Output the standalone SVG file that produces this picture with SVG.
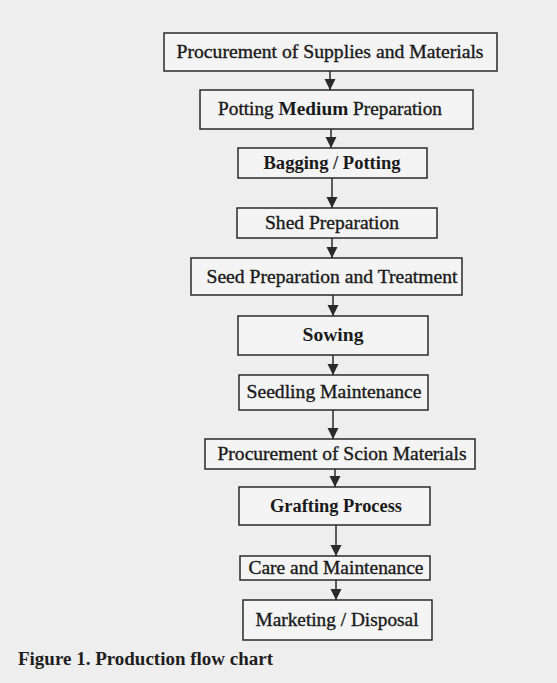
<svg xmlns="http://www.w3.org/2000/svg" width="557" height="683" viewBox="0 0 557 683">
<style>
.bg{fill:#eeeeee}
.box{fill:#f4f4f4;stroke:#2a2a2a;stroke-width:1.5}
.t{font-family:"Liberation Serif","Times New Roman",serif;font-size:18px;fill:#1a1a1a;stroke:#1a1a1a;stroke-width:0.35;text-anchor:middle}
.b{font-weight:bold;stroke-width:0}
.cap{font-family:"Liberation Serif","Times New Roman",serif;font-size:18px;font-weight:bold;fill:#1e1e1e}
.ln{stroke:#2a2a2a;stroke-width:1.5;fill:none}
</style>
<defs>
<marker id="ah" viewBox="0 0 10 10" refX="10" refY="5" markerWidth="7.5" markerHeight="7.5" markerUnits="strokeWidth" orient="auto">
<path d="M0,0 L10,5 L0,10 z" fill="#2a2a2a"/>
</marker>
</defs>
<rect class="bg" x="0" y="0" width="557" height="683"/>
<g id="connectors">
<line class="ln" x1="330" y1="71" x2="330" y2="90" marker-end="url(#ah)"/>
<line class="ln" x1="331" y1="129" x2="331" y2="148" marker-end="url(#ah)"/>
<line class="ln" x1="332" y1="178" x2="332" y2="208" marker-end="url(#ah)"/>
<line class="ln" x1="332" y1="238" x2="332" y2="258" marker-end="url(#ah)"/>
<line class="ln" x1="333" y1="295" x2="333" y2="316" marker-end="url(#ah)"/>
<line class="ln" x1="333" y1="355" x2="333" y2="375" marker-end="url(#ah)"/>
<line class="ln" x1="333" y1="410" x2="333" y2="439" marker-end="url(#ah)"/>
<line class="ln" x1="335" y1="469" x2="335" y2="487" marker-end="url(#ah)"/>
<line class="ln" x1="336" y1="525" x2="336" y2="556" marker-end="url(#ah)"/>
<line class="ln" x1="336" y1="580" x2="336" y2="600" marker-end="url(#ah)"/>
</g>
<g id="n1"><rect class="box" x="164" y="33" width="333" height="38"/><text class="t" x="330" y="58" textLength="307" lengthAdjust="spacingAndGlyphs">Procurement of Supplies and Materials</text></g>
<g id="n2"><rect class="box" x="200" y="90" width="273" height="39"/><text class="t" x="330" y="115" textLength="224" lengthAdjust="spacingAndGlyphs">Potting <tspan class="b">Medium</tspan> Preparation</text></g>
<g id="n3"><rect class="box" x="238" y="148" width="189" height="30"/><text class="t b" x="332" y="169" textLength="137" lengthAdjust="spacingAndGlyphs">Bagging / Potting</text></g>
<g id="n4"><rect class="box" x="237" y="208" width="200" height="30"/><text class="t" x="332" y="229" textLength="134" lengthAdjust="spacingAndGlyphs">Shed Preparation</text></g>
<g id="n5"><rect class="box" x="191" y="258" width="271" height="37"/><text class="t" x="332" y="283" textLength="251" lengthAdjust="spacingAndGlyphs">Seed Preparation and Treatment</text></g>
<g id="n6"><rect class="box" x="238" y="316" width="190" height="39"/><text class="t b" x="333" y="341" textLength="61" lengthAdjust="spacingAndGlyphs">Sowing</text></g>
<g id="n7"><rect class="box" x="239" y="375" width="189" height="35"/><text class="t" x="334" y="398" textLength="175" lengthAdjust="spacingAndGlyphs">Seedling Maintenance</text></g>
<g id="n8"><rect class="box" x="205" y="439" width="270" height="30"/><text class="t" x="342" y="460" textLength="249" lengthAdjust="spacingAndGlyphs">Procurement of Scion Materials</text></g>
<g id="n9"><rect class="box" x="239" y="487" width="191" height="38"/><text class="t b" x="336" y="512" textLength="132" lengthAdjust="spacingAndGlyphs">Grafting Process</text></g>
<g id="n10"><rect class="box" x="240" y="556" width="190" height="24"/><text class="t" x="336" y="574" textLength="175" lengthAdjust="spacingAndGlyphs">Care and Maintenance</text></g>
<g id="n11"><rect class="box" x="243" y="600" width="189" height="40"/><text class="t" x="337" y="626" textLength="163" lengthAdjust="spacingAndGlyphs">Marketing / Disposal</text></g>
<text class="cap" x="18" y="665" textLength="255" lengthAdjust="spacingAndGlyphs">Figure 1. Production flow chart</text>
</svg>
